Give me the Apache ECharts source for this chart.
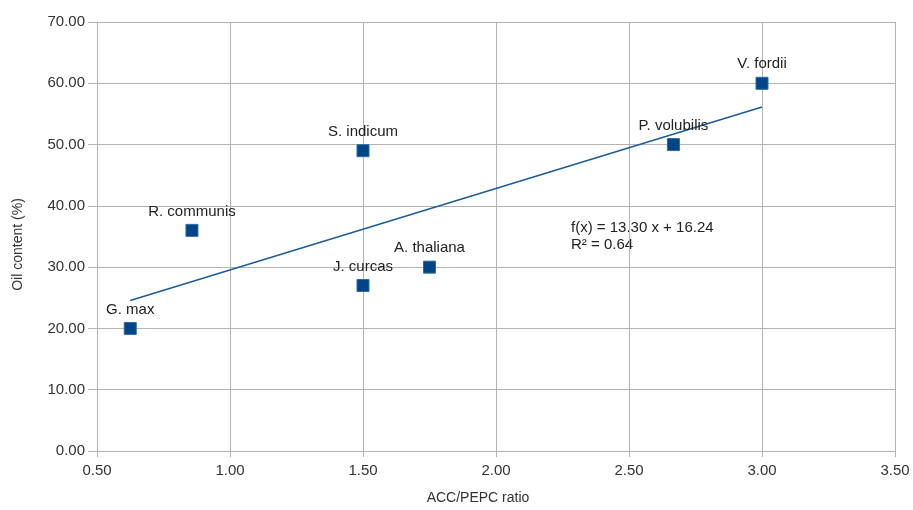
<!DOCTYPE html>
<html>
<head>
<meta charset="utf-8">
<script src="https://cdn.jsdelivr.net/npm/echarts@6/dist/echarts.min.js"></script>
<style>html,body{margin:0;padding:0;background:#fff}#c{width:913px;height:510px}</style>
</head>
<body>
<div id="c"></div>
<script>
const species = ["G. max", "R. communis", "S. indicum", "J. curcas", "A. thaliana", "P. volubilis", "V. fordii"];
const ratio = [0.625, 0.857, 1.5, 1.5, 1.75, 2.667, 3.0];
const oil = [20, 36, 49, 27, 30, 50, 60];
const slope = 13.30;
const intercept = 16.24;
const r2 = 0.64;

const pts = species.map((n, i) => ({ value: [ratio[i], oil[i]], name: n }));
const xMin = Math.min(...ratio), xMax = Math.max(...ratio);
const trend = [[xMin, slope * xMin + intercept], [xMax, slope * xMax + intercept]];

const chart = echarts.init(document.getElementById('c'), null, { renderer: 'canvas' });
const font = 'Liberation Sans, Arial, sans-serif';
chart.setOption({
  animation: false,
  grid: { left: 97, right: 18, top: 22, bottom: 58 },
  xAxis: {
    type: 'value', min: 0.5, max: 3.5, interval: 0.5,
    name: 'ACC/PEPC ratio', nameLocation: 'middle', nameGap: 40,
    nameTextStyle: { fontFamily: font, fontSize: 14, color: '#333', padding: [0, 36, 0, 0] },
    axisLine: { show: true, lineStyle: { color: '#b3b3b3' } },
    axisTick: { show: true, length: 6, lineStyle: { color: '#b3b3b3' } },
    splitLine: { show: true, lineStyle: { color: '#b3b3b3' } },
    axisLabel: { fontFamily: font, fontSize: 15, color: '#333', margin: 12, formatter: v => v.toFixed(2) }
  },
  yAxis: {
    type: 'value', min: 0, max: 70, interval: 10,
    name: 'Oil content (%)', nameLocation: 'middle', nameGap: 72,
    nameTextStyle: { fontFamily: font, fontSize: 14, color: '#333', padding: [0, 16, 0, 0] },
    axisLine: { show: true, lineStyle: { color: '#b3b3b3' } },
    axisTick: { show: true, length: 9, lineStyle: { color: '#b3b3b3' } },
    splitLine: { show: true, lineStyle: { color: '#b3b3b3' } },
    axisLabel: { fontFamily: font, fontSize: 15, color: '#333', margin: 12, formatter: v => v.toFixed(2) }
  },
  series: [
    {
      type: 'line', data: trend, symbol: 'none', silent: true,
      lineStyle: { color: '#1c5c9a', width: 1.5 }, z: 2
    },
    {
      type: 'scatter', data: pts, symbol: 'rect', symbolSize: 12,
      itemStyle: { color: '#004586', borderColor: '#2e6aa5', borderWidth: 1, opacity: 1 },
      label: { show: true, position: 'top', distance: 5, formatter: p => p.name,
        fontFamily: font, fontSize: 15, color: '#222' },
      z: 3
    }
  ],
  graphic: [{
    type: 'text', left: 571, top: 219,
    style: { text: 'f(x) = ' + slope.toFixed(2) + ' x + ' + intercept.toFixed(2) + '\nR² = ' + r2.toFixed(2),
      font: '15px Liberation Sans, Arial, sans-serif', fill: '#222', lineHeight: 17 }
  }]
});
</script>
</body>
</html>
